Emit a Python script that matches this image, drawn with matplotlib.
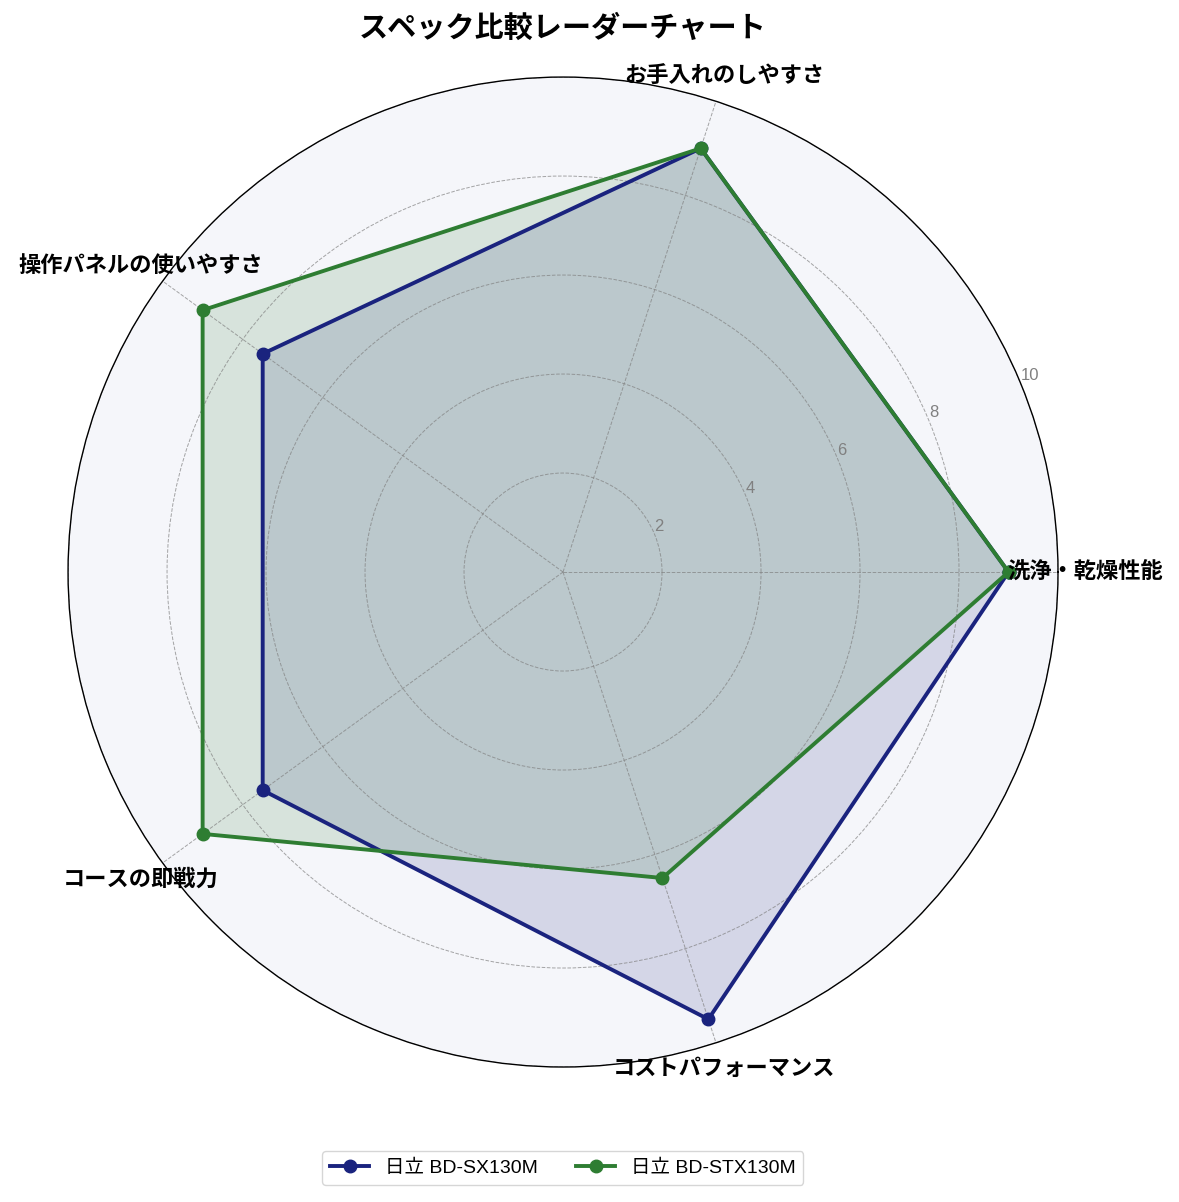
import numpy as np
import matplotlib
matplotlib.use("Agg")
import matplotlib.pyplot as plt

plt.rcParams['font.family'] = ['Noto Sans CJK JP', 'DejaVu Sans']
latin_first = ['Liberation Sans', 'Noto Sans CJK JP']

categories = ['洗浄・乾燥性能', 'お手入れのしやすさ', '操作パネルの使いやすさ', 'コースの即戦力', 'コストパフォーマンス']
sx130m = [9, 9, 7.5, 7.5, 9.5]
stx130m = [9, 9, 9, 9, 6.5]
series_names = ['日立 BD-SX130M', '日立 BD-STX130M']
colors = ['#1a237e', '#2e7d32']

n = len(categories)
angles = np.linspace(0, 2 * np.pi, n, endpoint=False).tolist()
angles_closed = angles + angles[:1]

fig = plt.figure(figsize=(11.79, 12.02), dpi=100)
ax = fig.add_axes([0.0577, 0.1123, 0.8397, 0.8236], projection='polar')
ax.set_facecolor('#f5f6fa')

for vals, name, c in zip([sx130m, stx130m], series_names, colors):
    v = vals + vals[:1]
    ax.plot(angles_closed, v, color=c, linewidth=2.8, marker='o', markersize=9, label=name)
    ax.fill(angles_closed, v, color=c, alpha=0.15)

ax.set_ylim(0, 10)
ax.set_yticks([2, 4, 6, 8, 10])
ax.set_yticklabels(['2', '4', '6', '8', '10'], color='gray', fontsize=12, family=latin_first)
ax.set_rlabel_position(22.5)
ax.set_xticks(angles)
ax.set_xticklabels([])
ax.grid(True, color='gray', linestyle='--', linewidth=0.7, alpha=0.7)
ax.spines['polar'].set_color('black')
ax.spines['polar'].set_linewidth(1.0)

for a, lab in zip(angles, categories):
    ax.text(a, 10.55, lab, ha='center', va='center', fontsize=16, fontweight='bold')

fig.text(0.4775, 0.977, 'スペック比較レーダーチャート', ha='center', va='center',
         fontsize=21, fontweight='bold')

fig.legend(loc='center', bbox_to_anchor=(0.4775, 0.0283), ncol=2,
           prop={'family': latin_first, 'size': 14},
           frameon=True, edgecolor='#cccccc')

fig.savefig('out.png', dpi=100)
